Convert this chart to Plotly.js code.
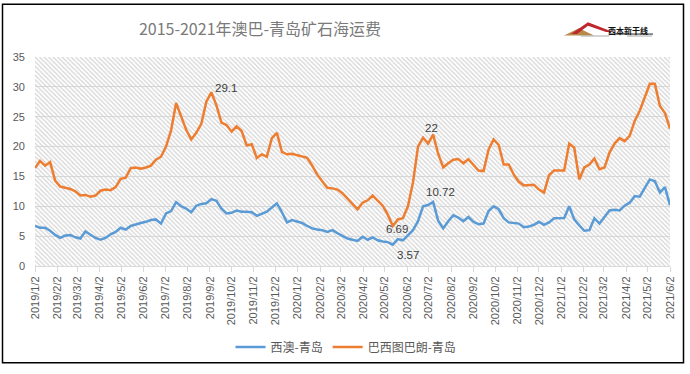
<!DOCTYPE html>
<html>
<head>
<meta charset="utf-8">
<script src="https://cdn.plot.ly/plotly-3.0.1.min.js"></script>
<style>
html,body{margin:0;padding:0;background:#fff;}
#chart{width:690px;height:374px;}
</style>
</head>
<body>
<div id="chart"></div>
<script>
// ---- data (weekly readings) ----
const dates = [
'2019-01-02','2019-01-09','2019-01-16','2019-01-23','2019-01-30','2019-02-06','2019-02-13','2019-02-20','2019-02-27',
'2019-03-06','2019-03-13','2019-03-20','2019-03-27','2019-04-03','2019-04-10','2019-04-17','2019-04-24',
'2019-05-01','2019-05-08','2019-05-15','2019-05-22','2019-05-29','2019-06-05','2019-06-12','2019-06-19','2019-06-26',
'2019-07-03','2019-07-10','2019-07-17','2019-07-24','2019-07-31','2019-08-07','2019-08-14','2019-08-21','2019-08-28',
'2019-09-04','2019-09-11','2019-09-18','2019-09-25','2019-10-02','2019-10-09','2019-10-16','2019-10-23','2019-10-30',
'2019-11-06','2019-11-13','2019-11-20','2019-11-27','2019-12-04','2019-12-11','2019-12-18','2019-12-25',
'2020-01-01','2020-01-08','2020-01-15','2020-01-22','2020-01-29','2020-02-05','2020-02-12','2020-02-19','2020-02-26',
'2020-03-04','2020-03-11','2020-03-18','2020-03-25','2020-04-01','2020-04-08','2020-04-15','2020-04-22','2020-04-29',
'2020-05-06','2020-05-13','2020-05-20','2020-05-27','2020-06-03','2020-06-10','2020-06-17','2020-06-24',
'2020-07-01','2020-07-08','2020-07-15','2020-07-22','2020-07-29','2020-08-05','2020-08-12','2020-08-19','2020-08-26',
'2020-09-02','2020-09-09','2020-09-16','2020-09-23','2020-09-30','2020-10-07','2020-10-14','2020-10-21','2020-10-28',
'2020-11-04','2020-11-11','2020-11-18','2020-11-25','2020-12-02','2020-12-09','2020-12-16','2020-12-23','2020-12-30',
'2021-01-06','2021-01-13','2021-01-20','2021-01-27','2021-02-03','2021-02-10','2021-02-17','2021-02-24',
'2021-03-03','2021-03-10','2021-03-17','2021-03-24','2021-03-31','2021-04-07','2021-04-14','2021-04-21','2021-04-28',
'2021-05-05','2021-05-12','2021-05-19','2021-05-26','2021-06-02'
];
const westAustralia = [
6.7,6.4,6.4,5.9,5.2,4.7,5.1,5.2,4.8,
4.6,5.8,5.3,4.7,4.4,4.7,5.3,5.7,
6.4,6.1,6.7,7.0,7.2,7.4,7.7,7.8,7.1,
8.8,9.2,10.7,10.0,9.6,9.0,10.1,10.4,10.5,
11.2,10.9,9.6,8.8,8.9,9.3,9.1,9.1,9.0,
8.4,8.8,9.1,9.8,10.5,9.0,7.3,7.7,
7.4,7.2,6.7,6.3,6.1,6.0,5.7,6.0,5.5,
5.0,4.6,4.4,4.2,4.9,4.4,4.8,4.3,4.1,
4.0,3.57,4.5,4.3,5.2,6.0,7.5,10.0,
10.2,10.72,7.6,6.3,7.5,8.5,8.1,7.5,8.2,
7.4,7.0,7.1,9.2,10.0,9.5,8.0,7.3,7.2,
7.1,6.5,6.6,6.9,7.4,6.9,7.3,8.0,8.05,
8.05,10.0,7.8,6.8,5.9,6.0,8.0,7.1,
8.3,9.3,9.4,9.3,10.1,10.6,11.7,11.6,13.1,
14.5,14.2,12.3,13.2,10.2
];
const brazilTubarao = [
16.4,17.6,16.8,17.4,14.3,13.3,13.1,12.9,12.5,
11.8,11.9,11.6,11.8,12.6,12.8,12.7,13.2,
14.6,14.8,16.4,16.5,16.3,16.5,16.8,17.8,18.3,
20.0,22.7,27.3,25.0,22.8,21.2,22.3,23.8,27.5,
29.1,26.9,24.0,23.6,22.5,23.4,22.6,20.2,20.4,
18.1,18.7,18.3,21.4,22.3,19.1,18.7,18.8,
18.6,18.4,18.1,16.8,15.3,14.2,13.1,13.0,12.8,
12.2,11.3,10.3,9.5,10.6,11.0,11.8,10.9,10.1,
8.6,6.69,7.8,8.0,10.0,14.0,20.0,21.5,
20.5,22.0,18.8,16.5,17.2,17.8,17.9,17.2,17.9,
17.0,16.0,15.9,19.5,21.2,20.3,17.0,17.0,15.3,
14.1,13.5,13.5,13.6,12.8,12.3,15.2,16.0,16.0,
16.0,20.5,19.8,14.5,16.5,17.0,18.0,16.2,
16.5,19.0,20.5,21.4,20.9,21.8,24.3,26.0,28.3,
30.5,30.5,26.8,25.6,23.0
];
const seriesNames = ['西澳-青岛','巴西图巴朗-青岛'];
const tickLabels = [
'2019/1/2','2019/2/2','2019/3/2','2019/4/2','2019/5/2','2019/6/2','2019/7/2','2019/8/2','2019/9/2','2019/10/2','2019/11/2','2019/12/2',
'2020/1/2','2020/2/2','2020/3/2','2020/4/2','2020/5/2','2020/6/2','2020/7/2','2020/8/2','2020/9/2','2020/10/2','2020/11/2','2020/12/2',
'2021/1/2','2021/2/2','2021/3/2','2021/4/2','2021/5/2','2021/6/2'
];
// labelled points: [series index, date, text]
const labelSeries = [1, 1, 0, 1, 0];
const labelDates  = ['2019-09-04','2020-07-08','2020-07-08','2020-05-13','2020-05-13'];
const labelTexts  = ['29.1','22','10.72','6.69','3.57'];

// ---- layout helpers ----
const W = 690, H = 374, L = 35, R = 20, T = 57, B = 103;
const PW = W - L - R, PH = H - T - B;
const fx = px => (px - L) / PW;
const fy = py => (H - B - py) / PH;
const tickVals = tickLabels.map(s => {
  const p = s.split('/');
  return p[0] + '-' + p[1].padStart(2, '0') + '-' + p[2].padStart(2, '0');
});
const xStart = tickVals[0], xEnd = tickVals[tickVals.length - 1];
const yMax = 35;

const seriesData = [westAustralia, brazilTubarao];
const colors = ['#5b9bd5', '#ed7d31'];

const traces = [
  {
    x: [xStart, xEnd, xEnd, xStart, xStart],
    y: [0, 0, yMax, yMax, 0],
    type: 'scatter', mode: 'none', fill: 'toself',
    fillcolor: 'rgba(0,0,0,0)',
    fillpattern: {shape: '\\', size: 3.2, solidity: 0.35, fgcolor: '#d2d2d2', bgcolor: 'rgba(0,0,0,0)'},
    hoverinfo: 'skip', showlegend: false
  },
  {x: dates, y: westAustralia, name: seriesNames[0], type: 'scatter', mode: 'lines',
   line: {color: colors[0], width: 2.5}},
  {x: dates, y: brazilTubarao, name: seriesNames[1], type: 'scatter', mode: 'lines',
   line: {color: colors[1], width: 2.5}}
];

const shifts = [[14.5, 4], [-1.5, 7], [7.5, 9.5], [4, -3], [15, -10]];
const annotations = labelTexts.map((t, i) => {
  const s = labelSeries[i];
  const idx = dates.indexOf(labelDates[i]);
  return {
    x: labelDates[i], y: seriesData[s][idx], xref: 'x', yref: 'y',
    text: t, showarrow: false, xanchor: 'center', yanchor: 'middle',
    xshift: shifts[i][0], yshift: shifts[i][1],
    font: {family: 'Liberation Sans, Arial, sans-serif', size: 11.5, color: '#404040'}
  };
});

// logo text
annotations.push({
  xref: 'paper', yref: 'paper', x: fx(628), y: fy(29.5), xanchor: 'center', yanchor: 'middle',
  text: '<b>西本新干线</b>', showarrow: false,
  font: {family: 'Noto Sans CJK SC, sans-serif', size: 8, color: '#111'}
});

const path = pts => 'M' + pts.map(p => fx(p[0]) + ',' + fy(p[1])).join(' L') + ' Z';

const shapes = [
  // chart border
  {type: 'rect', xref: 'paper', yref: 'paper', x0: fx(2.5), x1: fx(683.5), y0: fy(370), y1: fy(3),
   line: {color: '#000', width: 1.5}, fillcolor: 'rgba(0,0,0,0)', layer: 'above'},
  // logo: gold base triangle
  {type: 'path', xref: 'paper', yref: 'paper', path: path([[564, 35], [579, 27.5], [594, 35]]),
   fillcolor: '#b8894a', line: {width: 0}},
  // logo: red roof
  {type: 'path', xref: 'paper', yref: 'paper',
   path: path([[571, 33.5], [588, 21.5], [613, 31.5], [606, 31.5], [588, 25], [577, 33.5]]),
   fillcolor: '#c0272d', line: {width: 0}},
  // logo: underline + tiny text rows
  {type: 'line', xref: 'paper', yref: 'paper', x0: fx(610), x1: fx(653), y0: fy(33.5), y1: fy(33.5),
   line: {color: '#222', width: 1}},
  {type: 'line', xref: 'paper', yref: 'paper', x0: fx(581), x1: fx(609), y0: fy(35.5), y1: fy(35.5),
   line: {color: '#aaa', width: 1}},
  {type: 'line', xref: 'paper', yref: 'paper', x0: fx(627), x1: fx(652), y0: fy(35.5), y1: fy(35.5),
   line: {color: '#aaa', width: 1}}
];

const layout = {
  width: W, height: H,
  margin: {l: L, r: R, t: T, b: B, pad: 0},
  paper_bgcolor: '#fff', plot_bgcolor: '#fff',
  title: {
    text: '2015-2021年澳巴-青岛矿石海运费',
    xref: 'container', yref: 'container', x: 260 / W, y: 1 - 29 / H,
    xanchor: 'center', yanchor: 'middle',
    font: {family: 'Noto Sans CJK SC, sans-serif', size: 16, color: '#7a7a7a'}
  },
  xaxis: {
    type: 'date', range: [xStart, xEnd],
    tickvals: tickVals, ticktext: tickLabels, tickangle: -90,
    showgrid: false, zeroline: false,
    showline: true, linecolor: '#d9d9d9', linewidth: 1,
    ticks: 'outside', ticklen: 5, tickcolor: '#d9d9d9', tickwidth: 1,
    tickfont: {family: 'Liberation Sans, Arial, sans-serif', size: 11, color: '#595959'},
    fixedrange: true
  },
  yaxis: {
    range: [0, yMax], dtick: 5, tick0: 0,
    showgrid: true, gridcolor: '#d9d9d9', gridwidth: 1,
    zeroline: false, showline: false, ticks: '',
    ticklabelstandoff: 9,
    tickfont: {family: 'Liberation Sans, Arial, sans-serif', size: 11, color: '#595959'},
    fixedrange: true
  },
  showlegend: true,
  legend: {
    orientation: 'h', x: fx(346), y: fy(354), xanchor: 'center', yanchor: 'middle',
    font: {family: 'Noto Sans CJK SC, sans-serif', size: 12, color: '#595959'},
    bgcolor: 'rgba(0,0,0,0)', itemwidth: 30, tracegroupgap: 0
  },
  annotations: annotations,
  shapes: shapes,
  hovermode: false
};

Plotly.newPlot('chart', traces, layout, {displayModeBar: false, staticPlot: true});
</script>
</body>
</html>
